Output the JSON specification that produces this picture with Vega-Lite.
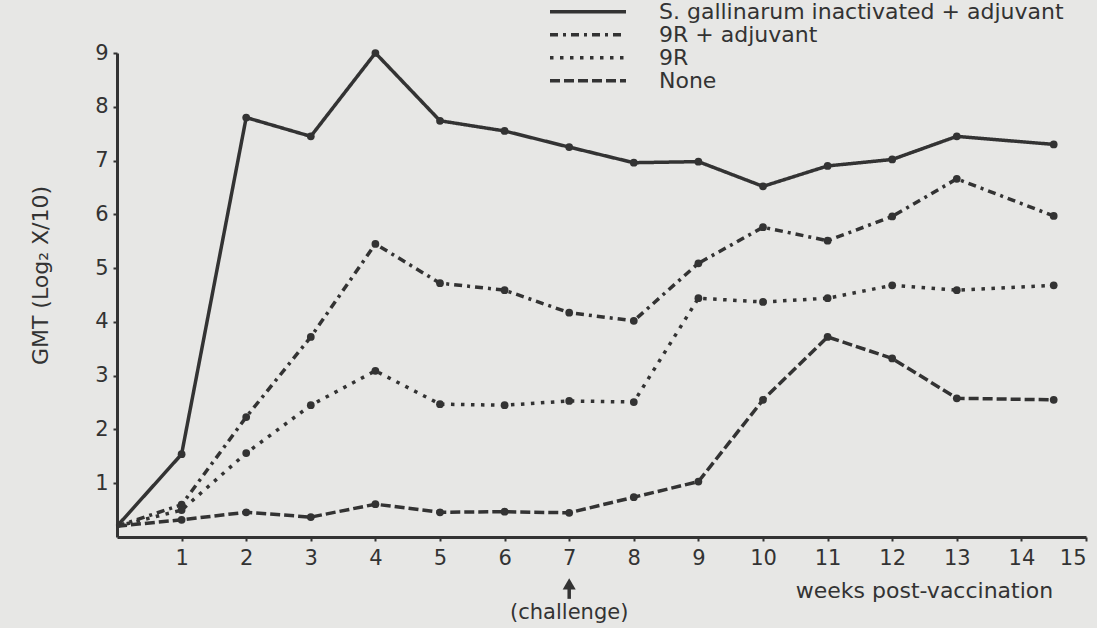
{
  "$schema": "https://vega.github.io/schema/vega-lite/v6.json",
  "width": 969,
  "height": 484,
  "autosize": {"type": "none"},
  "padding": {"left": 117, "top": 53, "right": 11, "bottom": 91},
  "background": "#e7e7e5",
  "config": {
    "view": {"stroke": null},
    "font": "DejaVu Sans",
    "axis": {
      "grid": false,
      "domainWidth": 3,
      "domainColor": "#333333",
      "tickColor": "#333333",
      "tickWidth": 2,
      "tickSize": 4,
      "labelFont": "DejaVu Sans",
      "labelFontSize": 21,
      "labelColor": "#333333",
      "labelOverlap": false,
      "titleFont": "DejaVu Sans",
      "titleFontWeight": "normal",
      "titleColor": "#333333"
    }
  },
  "datasets": {
    "gmt": [
      {"series": "S. gallinarum inactivated + adjuvant", "week": 0, "gmt": 0.2},
      {"series": "S. gallinarum inactivated + adjuvant", "week": 1, "gmt": 1.54},
      {"series": "S. gallinarum inactivated + adjuvant", "week": 2, "gmt": 7.8},
      {"series": "S. gallinarum inactivated + adjuvant", "week": 3, "gmt": 7.45},
      {"series": "S. gallinarum inactivated + adjuvant", "week": 4, "gmt": 9.0},
      {"series": "S. gallinarum inactivated + adjuvant", "week": 5, "gmt": 7.74},
      {"series": "S. gallinarum inactivated + adjuvant", "week": 6, "gmt": 7.55},
      {"series": "S. gallinarum inactivated + adjuvant", "week": 7, "gmt": 7.25},
      {"series": "S. gallinarum inactivated + adjuvant", "week": 8, "gmt": 6.96},
      {"series": "S. gallinarum inactivated + adjuvant", "week": 9, "gmt": 6.98},
      {"series": "S. gallinarum inactivated + adjuvant", "week": 10, "gmt": 6.52},
      {"series": "S. gallinarum inactivated + adjuvant", "week": 11, "gmt": 6.9},
      {"series": "S. gallinarum inactivated + adjuvant", "week": 12, "gmt": 7.02},
      {"series": "S. gallinarum inactivated + adjuvant", "week": 13, "gmt": 7.45},
      {"series": "S. gallinarum inactivated + adjuvant", "week": 14.5, "gmt": 7.3},
      {"series": "9R + adjuvant", "week": 0, "gmt": 0.2},
      {"series": "9R + adjuvant", "week": 1, "gmt": 0.6},
      {"series": "9R + adjuvant", "week": 2, "gmt": 2.23},
      {"series": "9R + adjuvant", "week": 3, "gmt": 3.72},
      {"series": "9R + adjuvant", "week": 4, "gmt": 5.45},
      {"series": "9R + adjuvant", "week": 5, "gmt": 4.72},
      {"series": "9R + adjuvant", "week": 6, "gmt": 4.59},
      {"series": "9R + adjuvant", "week": 7, "gmt": 4.17},
      {"series": "9R + adjuvant", "week": 8, "gmt": 4.02},
      {"series": "9R + adjuvant", "week": 9, "gmt": 5.09},
      {"series": "9R + adjuvant", "week": 10, "gmt": 5.76},
      {"series": "9R + adjuvant", "week": 11, "gmt": 5.51},
      {"series": "9R + adjuvant", "week": 12, "gmt": 5.96},
      {"series": "9R + adjuvant", "week": 13, "gmt": 6.66},
      {"series": "9R + adjuvant", "week": 14.5, "gmt": 5.97},
      {"series": "9R", "week": 0, "gmt": 0.2},
      {"series": "9R", "week": 1, "gmt": 0.5},
      {"series": "9R", "week": 2, "gmt": 1.56},
      {"series": "9R", "week": 3, "gmt": 2.45},
      {"series": "9R", "week": 4, "gmt": 3.09},
      {"series": "9R", "week": 5, "gmt": 2.47},
      {"series": "9R", "week": 6, "gmt": 2.45},
      {"series": "9R", "week": 7, "gmt": 2.53},
      {"series": "9R", "week": 8, "gmt": 2.51},
      {"series": "9R", "week": 9, "gmt": 4.44},
      {"series": "9R", "week": 10, "gmt": 4.37},
      {"series": "9R", "week": 11, "gmt": 4.44},
      {"series": "9R", "week": 12, "gmt": 4.68},
      {"series": "9R", "week": 13, "gmt": 4.59},
      {"series": "9R", "week": 14.5, "gmt": 4.68},
      {"series": "None", "week": 0, "gmt": 0.2},
      {"series": "None", "week": 1, "gmt": 0.32},
      {"series": "None", "week": 2, "gmt": 0.46},
      {"series": "None", "week": 3, "gmt": 0.37},
      {"series": "None", "week": 4, "gmt": 0.61},
      {"series": "None", "week": 5, "gmt": 0.46},
      {"series": "None", "week": 6, "gmt": 0.47},
      {"series": "None", "week": 7, "gmt": 0.45},
      {"series": "None", "week": 8, "gmt": 0.74},
      {"series": "None", "week": 9, "gmt": 1.03},
      {"series": "None", "week": 10, "gmt": 2.55},
      {"series": "None", "week": 11, "gmt": 3.72},
      {"series": "None", "week": 12, "gmt": 3.32},
      {"series": "None", "week": 13, "gmt": 2.58},
      {"series": "None", "week": 14.5, "gmt": 2.55}
    ]
  },
  "layer": [
    {
      "data": {"name": "gmt"},
      "mark": {"type": "line", "color": "#333333", "strokeWidth": 3.5},
      "encoding": {
        "x": {
          "field": "week",
          "type": "quantitative",
          "scale": {"domain": [0, 15], "nice": false, "zero": false},
          "axis": {
            "values": [1, 2, 3, 4, 5, 6, 7, 8, 9, 10, 11, 12, 13, 14, 15],
            "format": "d",
            "labelPadding": 6,
            "title": "weeks post-vaccination",
            "titleFontSize": 22,
            "titleX": 807,
            "titleY": 53,
            "titleAlign": "center",
            "titleBaseline": "middle",
            "titleAnchor": null
          }
        },
        "y": {
          "field": "gmt",
          "type": "quantitative",
          "scale": {"domain": [0, 9], "nice": false, "zero": false},
          "axis": {
            "values": [1, 2, 3, 4, 5, 6, 7, 8, 9],
            "format": "d",
            "labelPadding": 5,
            "title": "GMT (Log₂ X/10)",
            "titleFontSize": 22,
            "titleX": -77,
            "titleY": 222,
            "titleAngle": -90,
            "titleAlign": "center",
            "titleBaseline": "middle",
            "titleAnchor": null
          }
        },
        "detail": {"field": "series"},
        "strokeDash": {
          "field": "series",
          "type": "nominal",
          "scale": {
            "domain": ["S. gallinarum inactivated + adjuvant", "9R + adjuvant", "9R", "None"],
            "range": [[1, 0], [8, 5, 3, 5], [3.5, 6.5], [10, 4]]
          },
          "legend": {
            "orient": "none",
            "legendX": 431,
            "legendY": -52,
            "title": null,
            "symbolType": "stroke",
            "symbolSize": 5776,
            "symbolStrokeWidth": 3.5,
            "symbolStrokeColor": "#333333",
            "clipHeight": 21.7,
            "rowPadding": 0,
            "labelOffset": 31,
            "labelFont": "DejaVu Sans",
            "labelFontSize": 22,
            "labelColor": "#333333",
            "labelLimit": 600
          }
        }
      }
    },
    {
      "data": {"name": "gmt"},
      "transform": [{"filter": "datum.week > 0"}],
      "mark": {"type": "point", "filled": true, "color": "#333333", "size": 60, "opacity": 1},
      "encoding": {
        "x": {"field": "week", "type": "quantitative"},
        "y": {"field": "gmt", "type": "quantitative"}
      }
    },
    {
      "data": {"values": [{}]},
      "mark": {"type": "point", "shape": "triangle-up", "filled": true, "color": "#333333", "size": 170, "opacity": 1},
      "encoding": {
        "x": {"datum": 7},
        "y": {"datum": -0.87}
      }
    },
    {
      "data": {"values": [{}]},
      "mark": {"type": "rule", "color": "#333333", "strokeWidth": 3.5},
      "encoding": {
        "x": {"datum": 7},
        "y": {"datum": -0.92},
        "y2": {"datum": -1.15}
      }
    },
    {
      "data": {"values": [{}]},
      "mark": {"type": "text", "text": "(challenge)", "font": "DejaVu Sans", "fontSize": 21, "color": "#333333", "baseline": "middle", "align": "center"},
      "encoding": {
        "x": {"datum": 7},
        "y": {"datum": -1.42}
      }
    }
  ]
}
